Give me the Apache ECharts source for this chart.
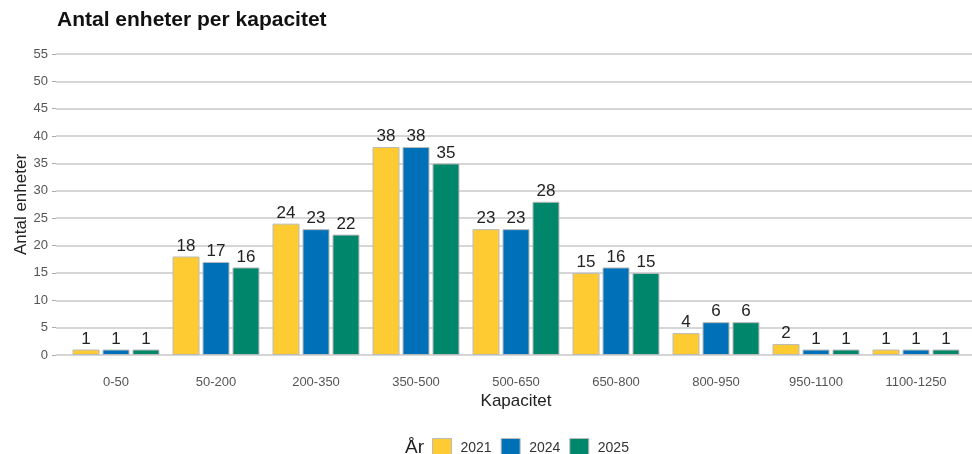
<!DOCTYPE html>
<html><head><meta charset="utf-8">
<script src="https://cdn.jsdelivr.net/npm/echarts@6/dist/echarts.min.js"></script>
<style>html,body{margin:0;padding:0;background:#fff}#c{width:972px;height:454px}</style>
</head><body><div id="c"></div>
<script>
const categories = ['0-50','50-200','200-350','350-500','500-650','650-800','800-950','950-1100','1100-1250'];
const years = ['2021','2024','2025'];
const v2021 = [1,18,24,38,23,15,4,2,1];
const v2024 = [1,17,23,38,23,16,6,1,1];
const v2025 = [1,16,22,35,28,15,6,1,1];
const colors = ['#FECB33','#0070B8','#00866A'];
const font = 'Liberation Sans, Arial, sans-serif';
const chart = echarts.init(document.getElementById('c'));
const seriesData = [v2021, v2024, v2025];
chart.setOption({
  animation:false,
  textStyle:{fontFamily:font},
  title:{text:'Antal enheter per kapacitet',left:52,top:5,textStyle:{fontFamily:font,fontSize:21,fontWeight:'bold',color:'#111'}},
  legend:{data:years,left:427,top:433,itemWidth:19,itemHeight:19,itemGap:9,icon:'rect',
    textStyle:{fontFamily:font,fontSize:14,color:'#333',padding:[0,0,0,4]},
    itemStyle:{borderColor:'#bbb',borderWidth:1}},
  graphic:[{type:'text',left:405,top:438,style:{text:'År',font:'19px '+font,fill:'#222'}}],
  grid:[{left:66,right:6,top:54,bottom:99},{left:56,right:0,top:54,bottom:99}],
  xAxis:[
    {type:'category',gridIndex:0,data:categories,axisTick:{show:false},axisLine:{show:false},
     axisLabel:{margin:21,fontSize:13,color:'#555',fontFamily:font},
     name:'Kapacitet',nameLocation:'middle',nameGap:38,nameMoveOverlap:false,nameTextStyle:{fontSize:17,color:'#222',fontFamily:font}},
    {type:'value',gridIndex:1,min:0,max:1,show:false}
  ],
  yAxis:[
    {type:'value',gridIndex:0,min:0,max:55,interval:5,show:false},
    {type:'value',gridIndex:1,min:0,max:55,interval:5,
     axisLine:{show:false},axisTick:{show:true,length:4,lineStyle:{color:'#aaa'}},
     axisLabel:{fontSize:13,color:'#555',margin:8,fontFamily:font},
     splitLine:{lineStyle:{color:'#c8c8c8',width:1.5}},
     name:'Antal enheter',nameLocation:'middle',nameGap:26,nameRotate:90,nameMoveOverlap:false,
     nameTextStyle:{fontSize:17,color:'#222',fontFamily:font}}
  ],
  series: years.map((y,i)=>({
    name:y,type:'bar',xAxisIndex:0,yAxisIndex:0,data:seriesData[i],
    barWidth:27,barGap:'11%',
    itemStyle:{color:colors[i],borderColor:'#bbb',borderWidth:1},
    label:{show:true,position:'top',distance:2,fontSize:17,color:'#222',fontFamily:font}
  }))
});
</script></body></html>
